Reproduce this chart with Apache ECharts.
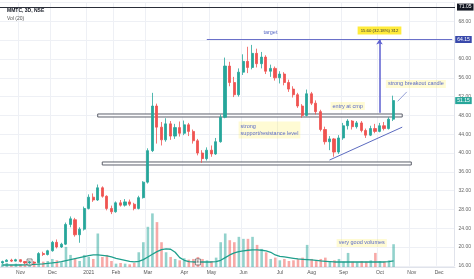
<!DOCTYPE html>
<html><head><meta charset="utf-8">
<script src="https://cdn.jsdelivr.net/npm/echarts@6/dist/echarts.min.js"></script>
<style>html,body{margin:0;padding:0;background:#fff}#c{width:474px;height:279px}</style>
</head><body><div id="c"></div>
<script>
// ---- data (3-day candles, MMTC NSE) ----
const opens = [16.6,16.9,17.2,17.0,17.3,16.9,16.6,16.8,16.7,18.6,
  18.4,19.2,21.0,20.0,20.6,24.8,25.8,22.6,23.8,28.2,
  30.6,30.0,32.6,30.8,28.2,27.5,29.4,28.9,29.6,29.1,
  28.2,30.5,33.8,40.5,50.0,45.5,42.8,46.2,43.6,45.4,
  44.2,46.0,44.6,42.6,40.0,38.8,40.6,39.8,42.4,47.6,
  58.5,55.0,52.4,57.2,59.5,58.2,61.2,59.0,60.4,57.4,
  58.0,56.0,56.8,55.0,53.6,52.4,50.0,48.0,52.6,50.6,
  48.8,45.0,42.4,43.0,40.2,43.2,45.8,46.8,45.6,46.4,
  44.8,43.8,45.2,44.6,45.8,45.2,47.2];
const closes = [16.9,17.2,17.0,17.3,16.9,16.6,16.8,16.6,18.6,18.4,
  19.2,21.0,20.0,20.6,24.8,26.0,22.6,23.8,28.2,30.6,
  30.0,32.6,30.8,28.2,27.5,29.4,28.9,29.6,29.1,28.2,
  30.5,33.8,40.5,50.0,45.5,42.8,46.2,43.6,45.4,44.2,
  46.0,44.6,42.6,40.0,38.8,40.6,39.8,42.4,47.6,58.5,
  55.0,52.4,57.2,59.5,58.2,61.2,59.0,60.4,57.4,58.0,
  56.0,56.8,55.0,53.6,52.4,50.0,48.0,52.6,50.6,48.8,
  45.0,42.4,43.0,40.2,43.2,45.8,46.8,45.6,46.4,44.8,
  43.8,45.2,44.6,45.8,45.2,47.2,51.15];
const lows = [16.4,16.8,16.8,16.9,16.7,16.3,16.4,16.4,16.6,18.1,
  18.2,19.0,19.7,19.8,20.4,24.2,22.2,20.9,23.5,28.0,
  29.6,29.8,30.5,27.8,27.0,27.3,28.6,28.6,28.7,27.8,
  28.0,30.3,33.5,40.2,42.0,41.6,42.4,42.8,43.0,43.5,
  43.8,43.6,42.0,39.5,37.9,38.4,39.2,39.6,42.2,47.4,
  54.2,51.9,52.0,56.6,57.0,57.8,58.2,58.0,56.8,56.2,
  55.4,54.8,54.4,53.0,51.8,49.6,47.5,47.8,50.2,48.2,
  44.6,41.8,40.6,39.2,39.8,42.8,45.0,45.0,45.2,44.4,
  43.2,43.6,44.2,44.4,44.8,45.0,46.8];
const highs = [17.1,17.4,17.5,17.5,17.4,17.0,17.0,17.0,18.9,19.0,
  19.4,21.3,21.6,20.9,25.2,26.5,26.2,24.2,28.6,31.2,
  31.4,33.3,32.9,31.0,28.8,29.7,30.0,30.2,30.1,29.4,
  30.9,34.0,41.0,52.8,50.5,46.6,47.4,46.8,46.2,46.7,
  46.9,46.4,45.0,43.0,40.6,41.2,41.6,43.2,48.2,60.3,
  59.4,56.2,58.0,61.0,62.6,63.0,62.2,61.5,60.8,58.8,
  58.4,57.4,57.2,55.6,54.2,52.8,50.4,53.5,53.0,51.2,
  49.2,45.6,43.6,43.2,43.8,46.4,47.2,47.0,46.8,46.8,
  45.2,45.8,46.2,46.4,46.6,47.6,52.2];
const volumes = [4,6,3,5,4,3,5,6,12,8,
  9,12,10,7,30,18,12,9,18,15,
  12,50,15,18,9,5,6,5,4,6,
  22,37,60,80,67,37,22,15,12,10,
  13,11,12,15,12,10,9,14,37,50,
  40,37,45,42,42,45,33,27,22,12,
  14,10,12,9,10,12,14,33,12,10,
  12,14,9,10,12,8,21,8,7,9,
  8,10,21,9,8,10,34];
const volumeMA = [3,3,3,3,3,3.2,3.5,3.8,4.2,4.8,
  5.5,6.2,7,8,9.5,11,12.5,14,15.5,17,
  18,18,17.5,16.5,15,13,11.5,10,8.5,7.5,
  8.5,11,15,19,23,26,27,26.5,22,14,
  10,8,7.5,7.5,7.5,7.5,7.5,8,10,14,
  18,21,23,24,25,25.5,25.5,25,24,22,
  18,16,15,14,13,12,11.5,11,10.5,10,
  9,8.5,8,7.5,7.5,7.5,7.5,7.5,7.5,7.5,
  7.5,7.5,7.5,7.5,7.5,8,9];
const monthTicks = {4:'Nov',11:'Dec',19:'2021',25:'Feb',32:'Mar',40:'Apr',46:'May',53:'Jun',61:'Jul',68:'Aug',75:'Sep',83:'Oct',90:'Nov',96:'Dec'};
const earningsIdx = [6, 43];
const slotCount = 100;
const categories = Array.from({length: slotCount}, (_, i) => 'b' + i);

// ---- build ----
const UP = '#26a69a', DOWN = '#ef5350';
const candleData = opens.map((o, i) => [o, closes[i], lows[i], highs[i]]);
const volData = volumes.map((v, i) => ({value: v, itemStyle: {color: closes[i] >= opens[i] ? 'rgba(38,166,154,0.5)' : 'rgba(239,83,80,0.5)'}}));
const FONT = 'Liberation Sans';
const noteBg = 'rgba(255,235,59,0.22)';
const noteColor = '#5b6bc6';
const isTick = (idx) => monthTicks[idx] !== undefined;

const chart = echarts.init(document.getElementById('c'), null, {renderer: 'canvas'});
chart.setOption({
  animation: false,
  backgroundColor: '#ffffff',
  textStyle: {fontFamily: FONT},
  title: {text: 'MMTC, 3D, NSE', subtext: 'Vol (20)', left: 2, top: 3, itemGap: 3,
    textStyle: {fontSize: 5, fontWeight: 'bold', color: '#131722', fontFamily: FONT},
    subtextStyle: {fontSize: 5, color: '#555', fontFamily: FONT}},
  grid: [
    {left: 0, right: 19, top: 2.6, height: 263.2},
    {left: 0, right: 19, top: 200, bottom: 12}
  ],
  xAxis: [
    {type: 'category', gridIndex: 0, data: categories, boundaryGap: true,
      axisLine: {show: false}, axisTick: {show: false}, axisLabel: {show: false},
      splitLine: {show: true, interval: (i) => isTick(i), lineStyle: {color: '#eef0f5', width: 1}}},
    {type: 'category', gridIndex: 1, data: categories, boundaryGap: true,
      axisLine: {show: true, lineStyle: {color: '#e0e3eb'}}, axisTick: {show: false},
      axisLabel: {show: true, interval: (i) => isTick(i), formatter: (v, i) => monthTicks[i] || '',
        fontSize: 5, color: '#555', margin: 3, fontFamily: FONT},
      splitLine: {show: false}}
  ],
  yAxis: [
    {type: 'value', gridIndex: 0, position: 'right', min: 16, max: 72, interval: 4,
      axisLine: {show: true, lineStyle: {color: '#e0e3eb'}}, axisTick: {show: false},
      axisLabel: {fontSize: 5, color: '#666', margin: 4, fontFamily: FONT,
        formatter: (v) => v >= 72 ? '' : v.toFixed(2)},
      splitLine: {show: true, lineStyle: {color: '#eef0f5', width: 1}}},
    {type: 'value', gridIndex: 1, min: 0, max: 100, show: false, splitLine: {show: false}}
  ],
  series: [
    {type: 'bar', xAxisIndex: 1, yAxisIndex: 1, data: volData, barWidth: 2.6, z: 1,
      markPoint: {symbol: 'circle', symbolSize: 1, itemStyle: {color: 'transparent'},
        data: [{coord: [79, 36], name: 'very good volumes',
          label: {show: true, position: 'inside', formatter: '{b}', fontSize: 5.5, color: noteColor,
            backgroundColor: noteBg, padding: [1, 2], fontFamily: FONT}}]}},
    {type: 'line', xAxisIndex: 1, yAxisIndex: 1, data: volumeMA, showSymbol: false, symbol: 'none',
      lineStyle: {color: '#1f9f8c', width: 1.3}, z: 2},
    {type: 'scatter', xAxisIndex: 1, yAxisIndex: 1, z: 3,
      data: earningsIdx.map(i => [i, 7.5]), symbol: 'rect', symbolSize: [5, 6],
      itemStyle: {color: '#fff', borderColor: '#333', borderWidth: 0.7},
      label: {show: true, position: 'inside', formatter: 'E', fontSize: 4, color: '#333'}},
    {type: 'candlestick', xAxisIndex: 0, yAxisIndex: 0, data: candleData, barWidth: 2.6, z: 4,
      itemStyle: {color: UP, color0: DOWN, borderColor: UP, borderColor0: DOWN, borderWidth: 0.8}},
    {type: 'line', xAxisIndex: 0, yAxisIndex: 0, data: [], z: 6,
      markArea: {silent: true,
        itemStyle: {color: 'rgba(255,255,255,0.75)', borderColor: '#5d606b', borderWidth: 1},
        data: [
          [{coord: [21, 48.3]}, {coord: [88, 47.66]}],
          [{coord: [22, 38.09]}, {coord: [90, 37.45]}]
        ]},
      markLine: {silent: true, symbol: ['none', 'none'], precision: 2,
        data: [
          [{yAxis: 71.05, x: 0, lineStyle: {color: '#2a2e39', width: 1, type: 'solid'},
            label: {show: true, position: 'end', formatter: '71.05', backgroundColor: '#131722', color: '#fff', fontSize: 5, padding: [1, 2], distance: 2}},
           {yAxis: 71.05, x: 455}],
          [{coord: [45, 64.15], lineStyle: {color: '#6a70c9', width: 1.2, type: 'solid'},
            label: {show: true, position: 'end', formatter: '64.15', backgroundColor: '#3949ab', color: '#fff', fontSize: 5, padding: [1, 2], distance: 3}},
           {coord: [99, 64.15]}],
          [{coord: [86, 51.15], lineStyle: {color: 'rgba(0,0,0,0)', width: 0},
            label: {show: true, position: 'end', formatter: '51.15', backgroundColor: '#26a69a', color: '#fff', fontSize: 5, padding: [1, 2], distance: 3}},
           {coord: [99, 51.15]}],
          [{coord: [83, 48.55], symbol: 'none', lineStyle: {color: '#5c5fd0', width: 1.5, type: 'solid'},
            label: {show: true, position: 'end', formatter: '15.60 (32.18%) 312', backgroundColor: '#ffeb3b', color: '#333', fontSize: 4.3, padding: [2, 3], distance: 5}},
           {coord: [83, 64.15], symbol: 'arrow', symbolSize: 5}],
          [{coord: [72, 38.5], lineStyle: {color: '#5c6bc0', width: 1, type: 'solid'}, label: {show: false}},
           {coord: [88, 45.5]}],
          [{coord: [89, 53.0], lineStyle: {color: '#7986cb', width: 0.8, type: 'solid'}, label: {show: false}},
           {coord: [87, 51.0]}]
        ]},
      markPoint: {symbol: 'circle', symbolSize: 1, itemStyle: {color: 'transparent'},
        label: {show: true, position: 'inside', formatter: '{b}', fontSize: 5.5, color: noteColor, fontFamily: FONT},
        data: [
          {coord: [59, 65.6], name: 'target', label: {fontSize: 5.5}},
          {coord: [91, 54.7], name: 'strong breakout candle', label: {backgroundColor: noteBg, padding: [1, 2]}},
          {coord: [76, 50.0], name: 'entry at cmp', label: {backgroundColor: noteBg, padding: [1, 2]}},
          {coord: [52, 44.9], name: 'strong\nsupport/resistance level', label: {align: 'left', backgroundColor: noteBg, padding: [2, 2], lineHeight: 6.5}}
        ]}}
  ]
});
</script>
</body></html>
